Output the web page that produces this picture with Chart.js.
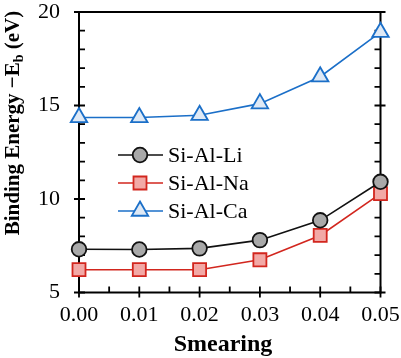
<!DOCTYPE html>
<html><head><meta charset="utf-8">
<script src="https://cdn.jsdelivr.net/npm/chart.js@4/dist/chart.umd.min.js"></script>
<style>html,body{margin:0;padding:0;background:#fff;}#wrap{width:401px;height:358px;}</style>
</head><body><div id="wrap"><canvas id="c" width="401" height="358"></canvas></div>
<script>
const smearing = [0.00, 0.01, 0.02, 0.03, 0.04, 0.05];
const siAlLi = [7.31, 7.30, 7.36, 7.80, 8.86, 10.92];
const siAlNa = [6.22, 6.22, 6.22, 6.75, 8.05, 10.29];
const siAlCa = [14.36, 14.36, 14.48, 15.10, 16.54, 18.92];
const seriesNames = ['Si-Al-Li', 'Si-Al-Na', 'Si-Al-Ca'];
const xTickValues = [0.00, 0.01, 0.02, 0.03, 0.04, 0.05];
const yTickValues = [5, 10, 15, 20];
const xTitle = 'Smearing';
const yTitleMain = 'Binding Energy \u2212E';
const yTitleSub = 'b';
const yTitleEnd = ' (eV)';

const FONT = '"Liberation Serif", "Times New Roman", serif';

function pts(ys){ return smearing.map((x,i)=>({x:x, y:ys[i]})); }

const styles = [
  {borderColor:'#111111', backgroundColor:'#a9a9a9', pointStyle:'circle', pointRadius:7.3},
  {borderColor:'#d2261e', backgroundColor:'#f2a9a6', pointStyle:'rect', pointRadius:9.2},
  {borderColor:'#1b6fc8', backgroundColor:'#dfe9f5', pointStyle:'triangle', pointRadius:9.5}
];
const seriesData = [siAlLi, siAlNa, siAlCa];

const datasets = seriesData.map((ys,i)=>({
  label: seriesNames[i],
  data: pts(ys),
  borderColor: styles[i].borderColor,
  backgroundColor: styles[i].backgroundColor,
  pointBackgroundColor: styles[i].backgroundColor,
  pointBorderColor: styles[i].borderColor,
  pointStyle: styles[i].pointStyle,
  pointRadius: styles[i].pointRadius,
  pointHoverRadius: styles[i].pointRadius,
  pointBorderWidth: 1.8,
  borderWidth: 1.6,
  tension: 0,
  fill: false,
  clip: false
}));

const axisDecor = {
  id: 'axisDecor',
  beforeDatasetsDraw(chart){
    const {ctx, chartArea:a, scales:{x, y}} = chart;
    ctx.save();
    ctx.strokeStyle = '#000';
    ctx.lineWidth = 2;
    ctx.strokeRect(a.left, a.top, a.right - a.left, a.bottom - a.top);
    ctx.lineWidth = 1.8;
    ctx.beginPath();
    for (let v = 5; v <= 20; v++) {
      const py = y.getPixelForValue(v);
      const major = v % 5 === 0;
      ctx.moveTo(major ? a.left - 5 : a.left, py); ctx.lineTo(a.left + 6, py);
      ctx.moveTo(major ? a.right + 5 : a.right, py); ctx.lineTo(a.right - 6, py);
    }
    for (let i = 0; i <= 10; i++) {
      const px = x.getPixelForValue(i * 0.005);
      const major = i % 2 === 0;
      ctx.moveTo(px, major ? a.bottom + 5 : a.bottom); ctx.lineTo(px, a.bottom - 6);
    }
    ctx.stroke();
    ctx.restore();
  },
  afterDraw(chart){
    const {ctx} = chart;
    ctx.save();
    const lx0 = 118, lx1 = 163, mx = 140, tx = 168;
    const rows = [155, 183, 211];
    ctx.font = '22px ' + FONT;
    ctx.textBaseline = 'middle';
    ctx.textAlign = 'left';
    chart.data.datasets.forEach((ds, i) => {
      const yy = rows[i];
      ctx.strokeStyle = ds.borderColor;
      ctx.lineWidth = 1.6;
      ctx.beginPath(); ctx.moveTo(lx0, yy); ctx.lineTo(lx1, yy); ctx.stroke();
      ctx.fillStyle = ds.pointBackgroundColor;
      ctx.strokeStyle = ds.pointBorderColor;
      ctx.lineWidth = 1.8;
      Chart.helpers.drawPoint(ctx, {pointStyle: ds.pointStyle, radius: ds.pointRadius, rotation: 0, borderWidth: 1.8}, mx, yy);
      ctx.fillStyle = '#000';
      ctx.fillText(ds.label, tx, yy + 1);
    });
    ctx.font = 'bold 24px ' + FONT;
    ctx.textAlign = 'center';
    ctx.textBaseline = 'alphabetic';
    ctx.fillText(xTitle, 223, 351);
    ctx.translate(19, 123);
    ctx.rotate(-Math.PI / 2);
    const fMain = 'bold 21px ' + FONT, fSub = 'bold 14px ' + FONT;
    ctx.font = fMain; const w1 = ctx.measureText(yTitleMain).width;
    const w3 = ctx.measureText(yTitleEnd).width;
    ctx.font = fSub; const w2 = ctx.measureText(yTitleSub).width;
    let sx = -(w1 + w2 + w3) / 2;
    ctx.textAlign = 'left';
    ctx.font = fMain; ctx.fillText(yTitleMain, sx, 0);
    ctx.font = fSub; ctx.fillText(yTitleSub, sx + w1, 4);
    ctx.font = fMain; ctx.fillText(yTitleEnd, sx + w1 + w2, 0);
    ctx.restore();
  }
};

function zeroPad(s){ s.paddingLeft = 0; s.paddingRight = 0; s.paddingTop = 0; s.paddingBottom = 0; }

new Chart(document.getElementById('c'), {
  type: 'line',
  data: { datasets: datasets },
  options: {
    responsive: false,
    animation: false,
    devicePixelRatio: 1,
    layout: { padding: { top: 12, right: 20.5, bottom: 0, left: 0 } },
    plugins: { legend: { display: false }, tooltip: { enabled: false } },
    scales: {
      x: {
        type: 'linear', min: 0, max: 0.05,
        afterBuildTicks: s => { s.ticks = xTickValues.map(v => ({value: v})); },
        afterFit: s => { s.height = 65.5; zeroPad(s); },
        ticks: { callback: v => Number(v).toFixed(2), font: {family: FONT, size: 22}, color: '#000', padding: 10, maxRotation: 0, autoSkip: false },
        grid: { display: false, drawTicks: false },
        border: { display: false }
      },
      y: {
        type: 'linear', min: 5, max: 20,
        afterBuildTicks: s => { s.ticks = yTickValues.map(v => ({value: v})); },
        afterFit: s => { s.width = 79; zeroPad(s); },
        ticks: { font: {family: FONT, size: 22}, color: '#000', padding: 19 },
        grid: { display: false, drawTicks: false },
        border: { display: false }
      }
    }
  },
  plugins: [axisDecor]
});
</script>
</body></html>
